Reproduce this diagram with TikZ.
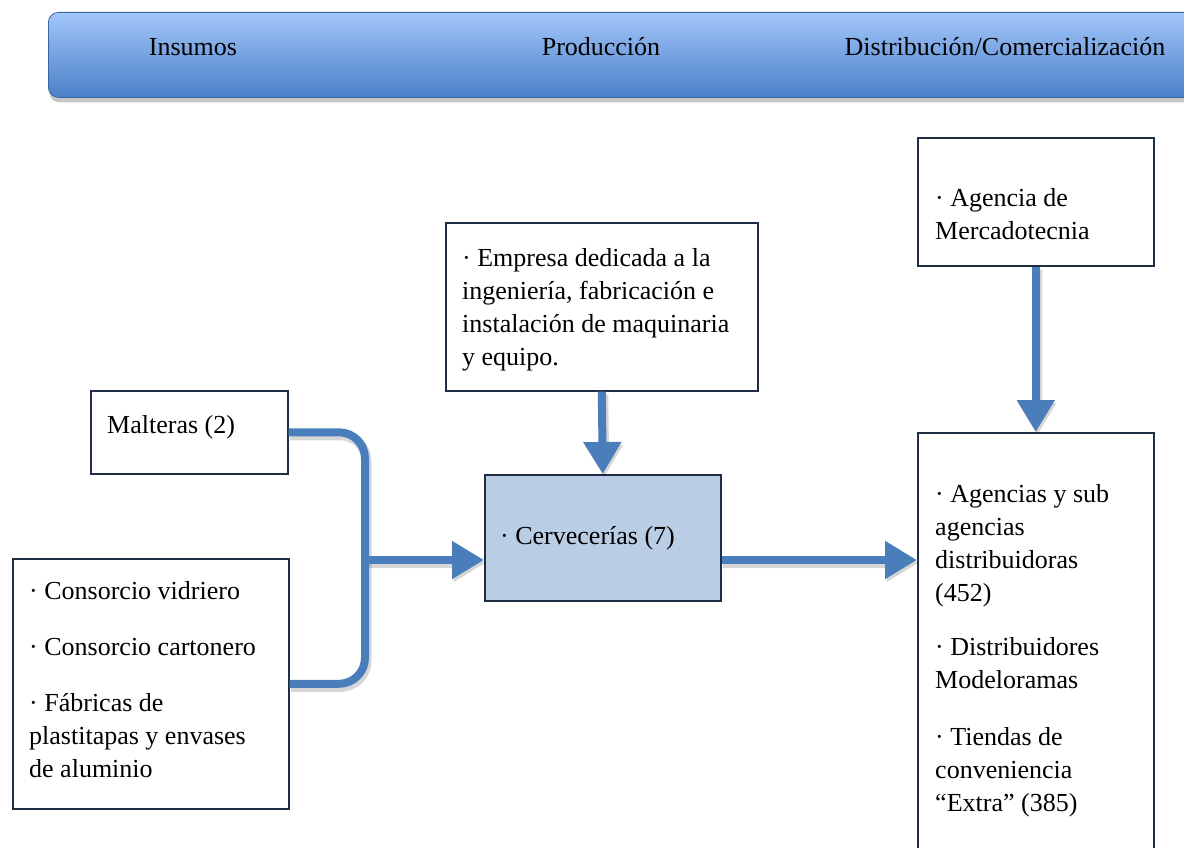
\documentclass[tikz,border=0pt]{standalone}
\usepackage{fontspec}
\setmainfont{Liberation Serif}
\usetikzlibrary{arrows.meta,shadows,positioning}
\definecolor{azul}{HTML}{4A7EBB}
\definecolor{borde}{HTML}{1F2D45}
\definecolor{relleno}{HTML}{B9CDE5}
\definecolor{bandaclara}{HTML}{A3C6FA}
\definecolor{bandaoscura}{HTML}{4A80C8}

\begin{document}
\begin{tikzpicture}[x=1pt,y=-1pt,
		caja/.style={draw=borde, line width=1.6pt, anchor=north west},
		texto/.style={font=\fontsize{26pt}{33pt}\selectfont, align=left, inner sep=0pt, anchor=north west},
		flecha/.style={draw=azul, line width=8pt},
		sombra/.style={draw=black, opacity=.16, line width=10pt, transform canvas={xshift=1.5pt, yshift=-3pt}},
		punta/.style={-{Triangle[length=32pt,width=36pt]}}]
				\useasboundingbox (0,0) rectangle (1184,848);
				% banda superior
				\node[draw=bandaoscura!80!black, line width=.8pt, rounded corners=10pt, anchor=north west,
					top color=bandaclara, bottom color=bandaoscura, minimum width=1200pt, minimum height=85pt,
					drop shadow={shadow xshift=1pt, shadow yshift=-5pt, opacity=.45}] (banda) at (48,12) {};
				\node[texto, anchor=center] (insumos) at (193,47) {Insumos};
				\node[texto, anchor=center] (produccion) at (601,47) {Producción};
				\node[texto, anchor=center] (distribucion) at (1005,47) {Distribución/Comercialización};
				% cajas
				\node[caja, minimum width=197pt, minimum height=83pt] (malteras) at (90,390) {};
				\node[caja, minimum width=276pt, minimum height=250pt] (consorcio) at (12,558) {};
				\node[caja, minimum width=312pt, minimum height=168pt] (empresa) at (445,222) {};
				\node[caja, fill=relleno, minimum width=236pt, minimum height=126pt] (cerveceria) at (484,474) {};
				\node[caja, minimum width=236pt, minimum height=128pt] (agencia) at (917,137) {};
				\node[caja, minimum width=236pt, minimum height=440pt] (agencias) at (917,432) {};
				% textos
				\node[texto] at ([shift={(17,25)}]malteras.north west) {Malteras (2)};
				\node[texto] at ([shift={(17,23)}]consorcio.north west) {· Consorcio vidriero\\[23pt]
					· Consorcio cartonero\\[23pt] · Fábricas de\\plastitapas y envases\\de aluminio};
				\node[texto] at ([shift={(17,26)}]empresa.north west) {· Empresa dedicada a la\\ingeniería, fabricación e\\instalación de maquinaria\\y equipo.};
				\node[texto] at ([shift={(16,52)}]cerveceria.north west) {· Cervecerías (7)};
				\node[texto] at ([shift={(18,51)}]agencia.north west) {· Agencia de\\Mercadotecnia};
				\node[texto] at ([shift={(18,52)}]agencias.north west) {· Agencias y sub\\agencias\\distribuidoras\\(452)\\[21pt]
					· Distribuidores\\Modeloramas\\[24pt] · Tiendas de\\conveniencia\\“Extra” (385)};
				% flechas
				\coordinate (union) at (365,560);
				\begin{scope}[transparency group]
				\draw[sombra, rounded corners=26pt] (malteras.east) -| (union) |- (consorcio.east);
				\draw[sombra, punta] (union) -- (union -| cerveceria.west);
				\draw[sombra, punta] (empresa.south) -- (cerveceria.north);
				\draw[sombra, punta] (cerveceria.east |- union) -- (agencias.west |- union);
				\draw[sombra, punta] (agencia.south) -- (agencias.north);
				\end{scope}
				\draw[flecha, rounded corners=26pt] (malteras.east) -| (union) |- (consorcio.east);
				\draw[flecha, punta] (union) -- (union -| cerveceria.west);
				\draw[flecha, punta] (empresa.south) -- (cerveceria.north);
				\draw[flecha, punta] (cerveceria.east |- union) -- (agencias.west |- union);
				\draw[flecha, punta] (agencia.south) -- (agencias.north);
			\end{tikzpicture}
\end{document}
